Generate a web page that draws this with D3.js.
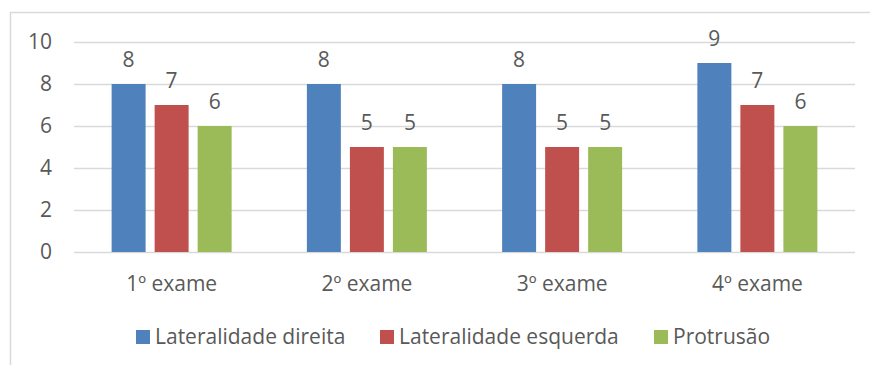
<!DOCTYPE html>
<html>
<head>
<meta charset="utf-8">
<script src="https://cdn.jsdelivr.net/npm/d3@7"></script>
<style>
  body { margin: 0; background: #fff; }
  text { font-family: "Open Sans", "Liberation Sans", sans-serif; fill: #595959; }
</style>
</head>
<body>
<div id="chart"></div>
<script>
const categories = ['1º exame', '2º exame', '3º exame', '4º exame'];
const seriesNames = ['Lateralidade direita', 'Lateralidade esquerda', 'Protrusão'];
const direita = [8, 8, 8, 9];
const esquerda = [7, 5, 5, 7];
const protrusao = [6, 5, 5, 6];
const yTicks = [0, 2, 4, 6, 8, 10];
const colors = ['#4f81bd', '#c0504d', '#9bbb59'];

const W = 870, H = 365;
const margin = { top: 42, right: 15, bottom: 113, left: 74 };
const w = W - margin.left - margin.right;
const h = H - margin.top - margin.bottom;
const fs = '21px';

const svg = d3.select('#chart')
    .append('svg')
    .attr('width', W)
    .attr('height', H);

// moldura
svg.append('path')
    .attr('d', `M10.5,${H} V12.5 H${W}`)
    .attr('fill', 'none')
    .attr('stroke', '#d9d9d9')
    .attr('stroke-width', 1.5);

const g = svg.append('g')
    .attr('transform', `translate(${margin.left}, ${margin.top})`);

const yScale = d3.scaleLinear()
    .domain([0, 10])
    .range([h, 0]);

const xScale = d3.scaleBand()
    .domain(categories)
    .range([0, w]);

const inner = d3.scaleBand()
    .domain(seriesNames)
    .range([xScale.bandwidth() / 2 - 60, xScale.bandwidth() / 2 + 60])
    .paddingInner(0.21);

// linhas de grade
const yAxis = d3.axisLeft(yScale).tickValues(yTicks).tickSize(-w).tickPadding(22);
g.append('g')
    .call(yAxis)
    .call((s) => {
        s.select('.domain').remove();
        s.selectAll('.tick line').attr('stroke', '#d9d9d9').attr('stroke-width', 1.5);
        s.selectAll('.tick text').style('font-size', fs).attr('fill', '#595959');
    });

const xAxis = d3.axisBottom(xScale).tickSize(0).tickPadding(24);
g.append('g')
    .attr('transform', `translate(0, ${h})`)
    .call(xAxis)
    .call((s) => {
        s.select('.domain').remove();
        s.selectAll('.tick text').style('font-size', fs).attr('fill', '#595959');
    });

const series = [direita, esquerda, protrusao];
series.forEach((vals, si) => {
    const grp = g.append('g');
    grp.selectAll('rect')
        .data(vals)
        .join('rect')
        .attr('x', (d, i) => xScale(categories[i]) + inner(seriesNames[si]))
        .attr('y', (d) => yScale(d))
        .attr('width', inner.bandwidth())
        .attr('height', (d) => h - yScale(d))
        .attr('fill', colors[si]);
    grp.selectAll('text')
        .data(vals)
        .join('text')
        .attr('x', (d, i) => xScale(categories[i]) + inner(seriesNames[si]) + inner.bandwidth() / 2)
        .attr('y', (d) => yScale(d) - 17)
        .attr('text-anchor', 'middle')
        .style('font-size', fs)
        .text((d) => d);
});

// legenda
const legendX = [136, 380, 654];
const legend = svg.append('g');
seriesNames.forEach((name, i) => {
    legend.append('rect')
        .attr('x', legendX[i])
        .attr('y', 330)
        .attr('width', 14)
        .attr('height', 14)
        .attr('fill', colors[i]);
    legend.append('text')
        .attr('x', legendX[i] + 19)
        .attr('y', 344)
        .style('font-size', fs)
        .text(name);
});
</script>
</body>
</html>
